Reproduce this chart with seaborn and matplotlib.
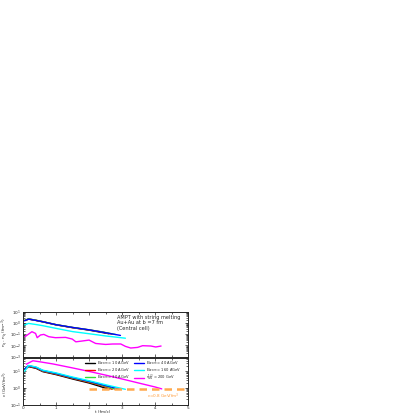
import numpy as np
import pandas as pd
import matplotlib
matplotlib.use("Agg")
import matplotlib.pyplot as plt
import matplotlib.ticker as mticker
import seaborn as sns

sns.set_theme(style="ticks")
plt.rcParams["font.family"] = ["DejaVu Sans"]
plt.rcParams["mathtext.fontset"] = "dejavusans"

# Series labels and colours
labels = [
    "E$_{beam}$ = 10 AGeV",
    "E$_{beam}$ = 20 AGeV",
    "E$_{beam}$ = 30 AGeV",
    "E$_{beam}$ = 40 AGeV",
    "E$_{beam}$ = 160 AGeV",
    "s$_{NN}^{1/2}$ = 200 GeV",
]
colors = ["black", "red", "#33dd33", "blue", "cyan", "magenta"]

# Net quark density (top panel)
t_10 = [0.05, 0.17, 0.4, 0.6, 1.0, 1.5, 2.0, 2.3, 2.6]
t_20 = [0.05, 0.17, 0.4, 0.6, 1.0, 1.5, 2.0, 2.4, 2.7]
t_30 = [0.05, 0.17, 0.4, 0.6, 1.0, 1.5, 2.0, 2.4, 2.8]
t_40 = [0.05, 0.17, 0.4, 0.6, 1.0, 1.5, 2.0, 2.5, 2.95]
t_160 = [0.05, 0.17, 0.4, 0.6, 1.0, 1.5, 2.0, 2.5, 3.1]

nq_10 = [1.6, 2.2, 1.65, 1.25, 0.68, 0.38, 0.23, 0.16, 0.11]
nq_20 = [1.65, 2.3, 1.7, 1.3, 0.7, 0.39, 0.24, 0.155, 0.1]
nq_30 = [1.7, 2.35, 1.72, 1.3, 0.71, 0.4, 0.245, 0.16, 0.095]
nq_40 = [1.6, 2.2, 1.68, 1.28, 0.7, 0.4, 0.245, 0.135, 0.078]
nq_160 = [0.66, 0.91, 0.72, 0.57, 0.33, 0.17, 0.11, 0.07, 0.044]

t_200_nq = [0.06, 0.27, 0.38, 0.43, 0.53, 0.63, 0.78, 0.98, 1.29, 1.49,
            1.6, 1.8, 2.0, 2.2, 2.5, 2.71, 2.96, 3.1, 3.26, 3.47, 3.62,
            3.87, 4.02, 4.18]
nq_200 = [0.06, 0.167, 0.117, 0.049, 0.085, 0.096, 0.06, 0.049, 0.052,
          0.037, 0.021, 0.025, 0.030, 0.015, 0.0123, 0.0134, 0.0135,
          0.0083, 0.0059, 0.0067, 0.0095, 0.0089, 0.0073, 0.0089]

# Energy density (bottom panel)
eps_10 = [12, 18, 14, 9.0, 6.0, 3.3, 1.9, 1.25, 0.8]
eps_20 = [12.5, 19, 14.8, 9.5, 6.4, 3.6, 2.1, 1.3, 0.8]
eps_30 = [13, 20, 15.5, 10, 6.8, 3.8, 2.25, 1.4, 0.8]
eps_40 = [13, 20.5, 16, 10.5, 7.1, 4.0, 2.4, 1.35, 0.8]
eps_160 = [9.5, 21, 17, 11, 7.6, 4.3, 2.6, 1.5, 0.8]

t_200_eps = [0.1, 0.3, 0.5, 0.9, 1.5, 2.0, 2.5, 3.0, 3.5, 4.0, 4.2]
eps_200 = [25, 40, 35, 26, 15, 9.3, 5.6, 3.3, 1.9, 1.1, 0.85]

t_cut = [2.0, 5.0]
eps_cut = [0.8, 0.8]

top_series = [(t_10, nq_10), (t_20, nq_20), (t_30, nq_30), (t_40, nq_40),
              (t_160, nq_160), (t_200_nq, nq_200)]
bot_series = [(t_10, eps_10), (t_20, eps_20), (t_30, eps_30), (t_40, eps_40),
              (t_160, eps_160), (t_200_eps, eps_200)]

fig = plt.figure(figsize=(4.15, 4.15), dpi=100)
ax_top = fig.add_axes([0.0554, 0.1405, 0.398, 0.1084])
ax_bot = fig.add_axes([0.0554, 0.0253, 0.398, 0.1110])

for (t, v), c in zip(top_series, colors):
    sns.lineplot(x=t, y=v, ax=ax_top, color=c, lw=1.0, legend=False)

for (t, v), c, lab in zip(bot_series, colors, labels):
    sns.lineplot(x=t, y=v, ax=ax_bot, color=c, lw=1.0, label=lab)

sns.lineplot(x=t_cut, y=eps_cut, ax=ax_bot, color="#ffa94d", lw=1.8,
             linestyle=(0, (3, 2)), legend=False)
ax_bot.text(4.25, 0.3, "ε=0.8 GeV/fm$^3$", color="#ff9933", fontsize=3.0,
            ha="center", va="center")

for ax in (ax_top, ax_bot):
    ax.set_yscale("log")
    ax.set_xlim(0, 5)
    ax.xaxis.set_major_locator(mticker.MultipleLocator(1))
    ax.xaxis.set_minor_locator(mticker.MultipleLocator(0.5))
    ax.tick_params(which="both", direction="in", top=True, right=True,
                   labelsize=3.0, pad=1.2, width=0.5)
    ax.tick_params(which="major", length=2.5)
    ax.tick_params(which="minor", length=1.3)
    for s in ax.spines.values():
        s.set_linewidth(0.7)

ax_top.set_ylim(1e-3, 1e1)
ax_top.set_xticklabels([])
ax_top.set_xlabel("")
ax_top.set_ylabel("n$_q$ - n$_{\\bar{q}}$ (fm$^{-3}$)", fontsize=3.0)
ax_top.yaxis.set_label_coords(-0.075, 0.55)
ax_top.text(0.57, 0.93, "AMPT with string melting\nAu+Au at b =7 fm\n(Central cell)",
            transform=ax_top.transAxes, fontsize=3.6, va="top", ha="left",
            linespacing=1.1)

ax_bot.set_ylim(0.1, 55)
ax_bot.set_xlabel("t (fm/c)", fontsize=3.0)
ax_bot.xaxis.set_label_coords(0.48, -0.13)
ax_bot.set_ylabel("ε (GeV/fm$^3$)", fontsize=3.0)
ax_bot.yaxis.set_label_coords(-0.08, 0.45)
ax_bot.legend(loc="upper right", bbox_to_anchor=(0.975, 1.03), ncol=2,
              fontsize=2.65, frameon=False, handlelength=2.7, handletextpad=0.55,
              columnspacing=1.4, labelspacing=-0.25, borderpad=0.2)

fig.savefig("out.png", dpi=100)
plt.close(fig)
